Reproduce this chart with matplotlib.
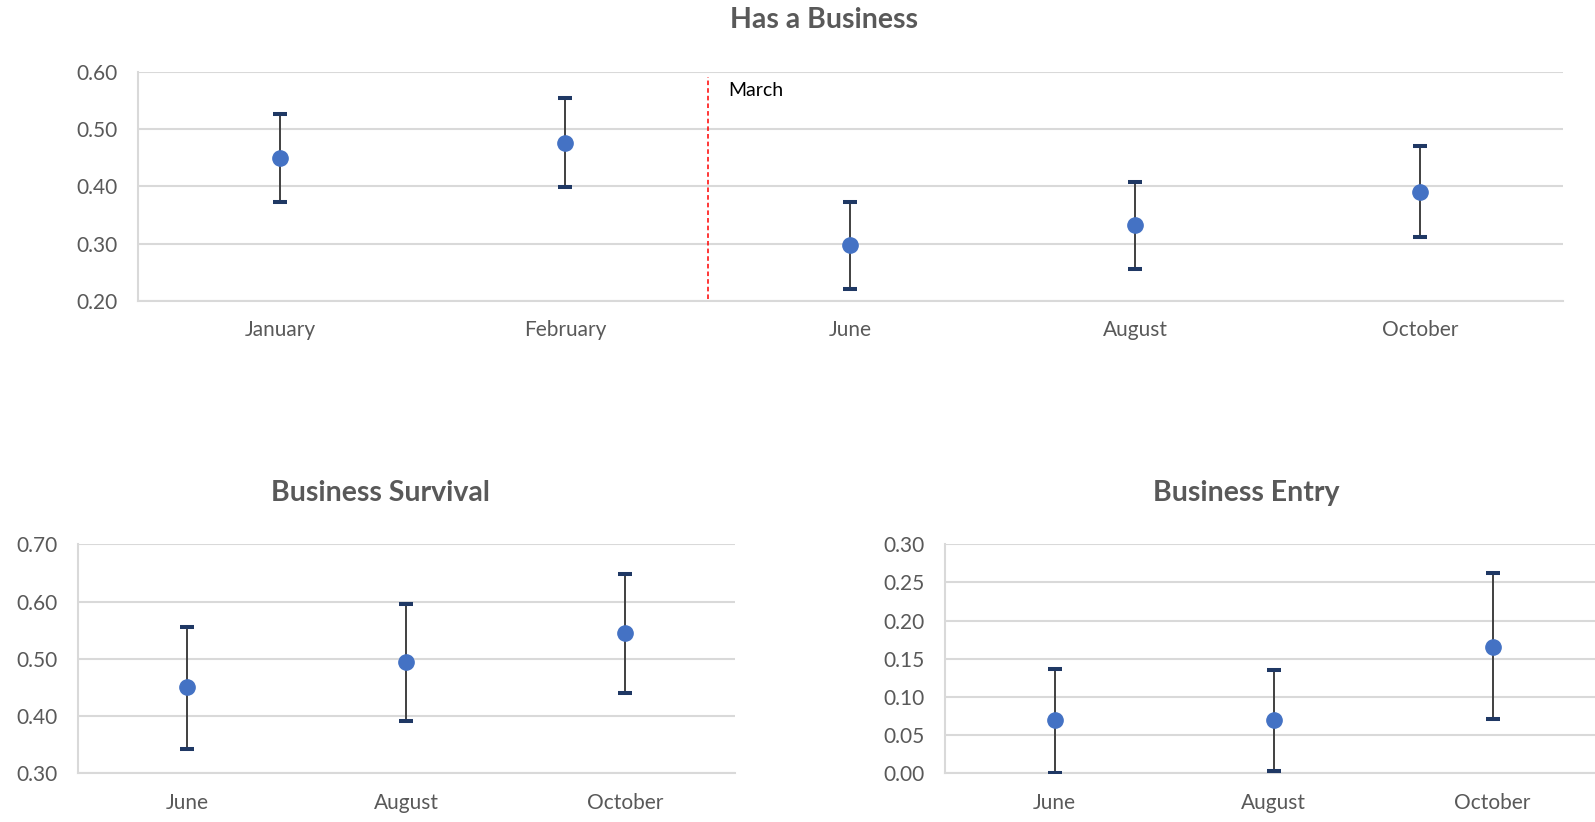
import numpy as np
import matplotlib.pyplot as plt

plt.rcParams['font.family'] = ['Lato', 'DejaVu Sans']

# values (point estimate, lower and upper bound)
months_top = ['January', 'February', 'June', 'August', 'October']
has_mean = [0.449, 0.476, 0.298, 0.332, 0.391]
has_low = [0.373, 0.399, 0.221, 0.255, 0.311]
has_high = [0.527, 0.554, 0.373, 0.407, 0.470]

months_bottom = ['June', 'August', 'October']
surv_mean = [0.450, 0.494, 0.545]
surv_low = [0.343, 0.391, 0.440]
surv_high = [0.555, 0.596, 0.649]

entry_mean = [0.070, 0.070, 0.166]
entry_low = [0.001, 0.003, 0.071]
entry_high = [0.137, 0.136, 0.262]

grey_text = '#595959'
grid_col = '#d9d9d9'


def ci_plot(ax, labels, mean, low, high, yticks):
    "Point estimates with confidence interval bars, Excel style"
    x = np.arange(len(labels))
    mean = np.array(mean)
    err = [mean - np.array(low), np.array(high) - mean]
    _, caps, _ = ax.errorbar(x, mean, yerr=err, fmt='none', ecolor='#404040',
                             elinewidth=1.4, capsize=4.7, capthick=2.9, zorder=3)
    for c in caps:
        c.set_markeredgecolor('#1f3864')
    ax.plot(x, mean, 'o', color='#4472C4', markersize=11, zorder=4)
    ax.set_xlim(-0.5, len(labels) - 0.5)
    ax.set_ylim(yticks[0], yticks[-1])
    ax.set_xticks(x)
    ax.set_xticklabels(labels)
    ax.set_yticks(yticks)
    ax.set_yticklabels(['{:.2f}'.format(t) for t in yticks])
    ax.grid(axis='y', color=grid_col, linewidth=1.5)
    ax.set_axisbelow(True)
    for s in ('top', 'right'):
        ax.spines[s].set_visible(False)
    for s in ('left', 'bottom'):
        ax.spines[s].set_color(grid_col)
        ax.spines[s].set_linewidth(1.5)
    ax.tick_params(axis='both', length=0, labelsize=15, colors=grey_text)
    ax.tick_params(axis='x', pad=14)
    ax.tick_params(axis='y', pad=15)


fig = plt.figure(figsize=(15.95, 8.22), dpi=100)

ax1 = fig.add_axes([0.0865, 0.6338, 0.8934, 0.279])
ci_plot(ax1, months_top, has_mean, has_low, has_high, [0.2, 0.3, 0.4, 0.5, 0.6])
ax1.axvline(1.5, ymin=0.01, ymax=0.975, color='red', linewidth=1.1, linestyle=(0, (3, 2)))
ax1.text(1.57, 0.568, 'March', fontsize=14, color='black', va='center', ha='left')

ax2 = fig.add_axes([0.0489, 0.0592, 0.4119, 0.2786])
ci_plot(ax2, months_bottom, surv_mean, surv_low, surv_high, [0.3, 0.4, 0.5, 0.6, 0.7])

ax3 = fig.add_axes([0.5925, 0.0592, 0.4119, 0.2786])
ci_plot(ax3, months_bottom, entry_mean, entry_low, entry_high,
        [0.0, 0.05, 0.10, 0.15, 0.20, 0.25, 0.30])

fig.text(824 / 1595, 1 - 20 / 822, 'Has a Business', fontsize=20.5, fontweight='bold',
         color=grey_text, ha='center', va='center')
fig.text(380 / 1595, 1 - 493 / 822, 'Business Survival', fontsize=20.5, fontweight='bold',
         color=grey_text, ha='center', va='center')
fig.text(1246 / 1595, 1 - 493 / 822, 'Business Entry', fontsize=20.5, fontweight='bold',
         color=grey_text, ha='center', va='center')

fig.savefig('out.png', dpi=100)
